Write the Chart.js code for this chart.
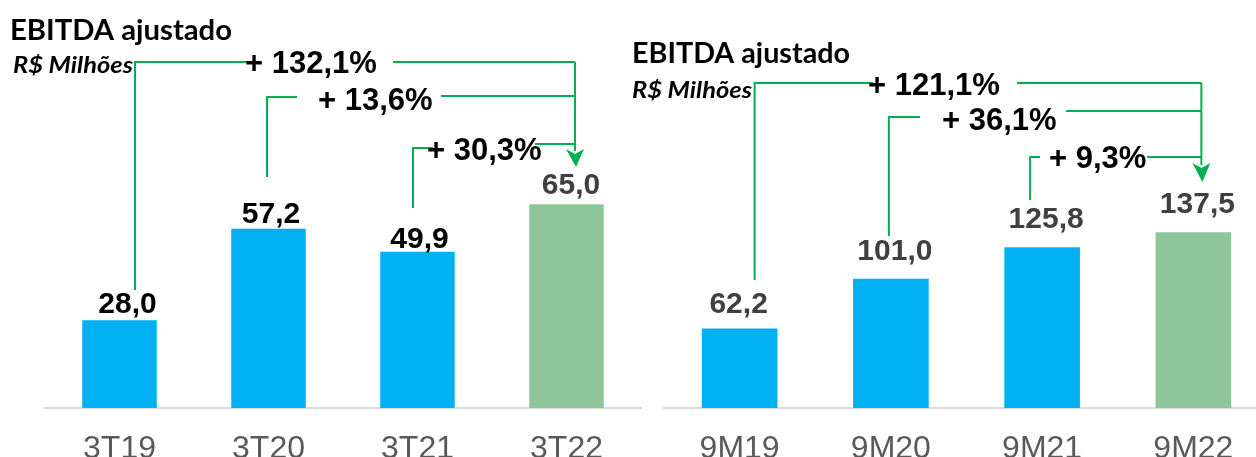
<!DOCTYPE html>
<html><head><meta charset="utf-8">
<script src="https://cdn.jsdelivr.net/npm/chart.js@4/dist/chart.umd.min.js"></script>
<style>
html,body{margin:0;padding:0;background:#fff;overflow:hidden;width:1256px;height:457px;}
.box{position:absolute;top:0;height:457px;width:660px;}
#b1{left:0;}
#b2{left:620px;}
</style></head><body>
<div class="box" id="b1"><canvas id="c1"></canvas></div>
<div class="box" id="b2"><canvas id="c2"></canvas></div>
<script>
// ---- data ----
const categoriesQ = ['3T19', '3T20', '3T21', '3T22'];
const ebitdaQ = [28.0, 57.2, 49.9, 65.0];
const growthQ = ['+ 132,1%', '+ 13,6%', '+ 30,3%'];

const categories9M = ['9M19', '9M20', '9M21', '9M22'];
const ebitda9M = [62.2, 101.0, 125.8, 137.5];
const growth9M = ['+ 121,1%', '+ 36,1%', '+ 9,3%'];

const chartTitle = 'EBITDA ajustado';
const unitLabel = 'R$ Milhões';

// ---- styles ----
const BLUE = '#00B0F0', GREENBAR = '#8EC699', LINE = '#00B050';
const NUM_FONT = '"Liberation Sans", Arial, sans-serif';

function fmt(v){ return v.toFixed(1).replace('.', ','); }

function fitText(ctx, text, x, y, font, width, color){
  ctx.save();
  ctx.font = font; ctx.fillStyle = color;
  ctx.textBaseline = 'alphabetic'; ctx.textAlign = 'left';
  const w = ctx.measureText(text).width;
  ctx.translate(x, y);
  if (width) ctx.scale(width / w, 1);
  ctx.fillText(text, 0, 0);
  ctx.restore();
}

const decoPlugin = {
  id: 'deco',
  afterDatasetsDraw(chart, args, o){
    const ctx = chart.ctx, ox = o.originX;
    const xs = chart.scales.x, ys = chart.scales.y;
    const vals = chart.data.datasets[0].data;
    // titles
    fitText(ctx, o.title, o.titleX - ox, o.titleY, 'bold 29px Lato', o.titleW, '#000');
    fitText(ctx, o.sub, o.subX - ox, o.subY, 'italic bold 23px Lato', o.subW, '#000');
    // value labels
    ctx.save();
    ctx.font = 'bold 30px ' + NUM_FONT;
    ctx.textAlign = 'center'; ctx.textBaseline = 'alphabetic';
    vals.forEach((v, i) => {
      ctx.fillStyle = o.labelColors[i];
      ctx.fillText(fmt(v), xs.getPixelForValue(i) + o.labelDx[i], ys.getPixelForValue(v) - o.labelGap[i]);
    });
    ctx.restore();
    // brackets
    ctx.save();
    ctx.strokeStyle = LINE; ctx.fillStyle = LINE; ctx.lineWidth = 2;
    const ax = xs.getPixelForValue(o.arrow.bar) + o.arrow.dx;
    o.brackets.forEach(b => {
      const bx = xs.getPixelForValue(b.bar) + b.dx;
      ctx.beginPath();
      ctx.moveTo(bx, b.yBottom); ctx.lineTo(bx, b.yTop); ctx.lineTo(b.hLeftEnd - ox, b.yTop);
      ctx.moveTo(b.hRightStart - ox, b.yRight); ctx.lineTo(ax, b.yRight);
      ctx.stroke();
    });
    ctx.beginPath();
    ctx.moveTo(ax, o.brackets[0].yRight); ctx.lineTo(ax, o.arrow.base + 2);
    ctx.stroke();
    // arrow head
    const t = o.arrow.tip, bs = o.arrow.base;
    ctx.beginPath();
    ctx.moveTo(ax - 9, bs); ctx.lineTo(ax, bs + 5); ctx.lineTo(ax + 9, bs); ctx.lineTo(ax + 1, t);
    ctx.closePath(); ctx.fill();
    // growth labels
    ctx.font = 'bold 31px ' + NUM_FONT;
    ctx.fillStyle = '#000'; ctx.textAlign = 'left'; ctx.textBaseline = 'alphabetic';
    o.brackets.forEach((b, k) => ctx.fillText(o.growth[k], b.labelX - ox, b.labelY));
    ctx.restore();
  }
};

function makeChart(id, labels, values, colors, yMax, padding, deco){
  return new Chart(document.getElementById(id), {
    type: 'bar',
    data: { labels: labels, datasets: [{ data: values, backgroundColor: colors, borderWidth: 0,
      barPercentage: 0.5, categoryPercentage: 1 }] },
    options: {
      responsive: true, maintainAspectRatio: false, animation: false,
      layout: { padding: padding },
      plugins: { legend: { display: false }, tooltip: { enabled: false }, title: { display: false }, deco: deco },
      scales: {
        x: {
          grid: { display: false, drawTicks: false },
          border: { display: true, color: '#D9D9D9', width: 2 },
          ticks: { color: '#595959', font: { family: NUM_FONT, size: 32 }, padding: 22 },
          afterFit: s => { s.height = 49; }
        },
        y: { display: false, min: 0, max: yMax }
      }
    },
    plugins: [decoPlugin]
  });
}

makeChart('c1', categoriesQ, ebitdaQ, [BLUE, BLUE, BLUE, GREENBAR], 120,
  { top: 32, left: 45, right: 19, bottom: 0 },
  {
    originX: 0,
    title: chartTitle, titleX: 10, titleY: 40, titleW: 222,
    sub: unitLabel, subX: 13, subY: 73, subW: 120,
    labelDx: [8, 2.5, 2, 4.5], labelGap: [7, 6, 4, 10],
    labelColors: ['#000', '#000', '#000', '#404040'],
    growth: growthQ,
    arrow: { bar: 3, dx: 8.5, base: 149, tip: 167 },
    brackets: [
      { bar: 0, dx: 15.5, yBottom: 290, yTop: 62, hLeftEnd: 250, hRightStart: 393, yRight: 62, labelX: 245, labelY: 73 },
      { bar: 1, dx: -1.5, yBottom: 177, yTop: 97, hLeftEnd: 297, hRightStart: 441, yRight: 96, labelX: 318, labelY: 110 },
      { bar: 2, dx: -4.5, yBottom: 208, yTop: 148, hLeftEnd: 433, hRightStart: 535, yRight: 144, labelX: 427, labelY: 160 }
    ]
  });

makeChart('c2', categories9M, ebitda9M, [BLUE, BLUE, BLUE, GREENBAR], 280,
  { top: 50, left: 44, right: 11, bottom: 0 },
  {
    originX: 620,
    title: chartTitle, titleX: 632, titleY: 63, titleW: 218,
    sub: unitLabel, subX: 632, subY: 98, subW: 120,
    labelDx: [-1, 4, 4, 4], labelGap: [15, 19, 19, 19],
    labelColors: ['#404040', '#404040', '#404040', '#404040'],
    growth: growth9M,
    arrow: { bar: 3, dx: 8, base: 163, tip: 182 },
    brackets: [
      { bar: 0, dx: 15, yBottom: 280, yTop: 83, hLeftEnd: 873, hRightStart: 1017, yRight: 83, labelX: 868, labelY: 95 },
      { bar: 1, dx: -2, yBottom: 236, yTop: 117, hLeftEnd: 920, hRightStart: 1066, yRight: 111, labelX: 942, labelY: 130 },
      { bar: 2, dx: -12, yBottom: 200, yTop: 157, hLeftEnd: 1040, hRightStart: 1147, yRight: 157, labelX: 1049, labelY: 168 }
    ]
  });
</script>
</body></html>
